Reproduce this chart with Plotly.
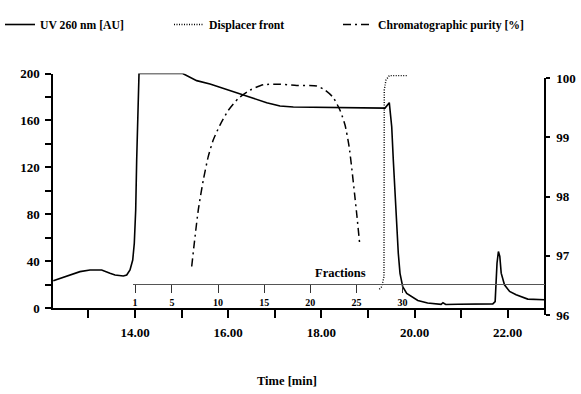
import plotly.graph_objects as go

# ---------------- data ----------------
uv_time = [12.246, 12.534, 12.819, 13.034, 13.285, 13.463, 13.571, 13.749, 13.822, 13.893,
           13.951, 13.985, 14.015, 14.036, 14.058, 14.086, 15.024, 15.144, 15.324, 15.61,
           15.968, 16.254, 16.539, 16.827, 17.112, 17.398, 17.9, 18.61, 19.366, 19.458,
           19.51, 19.544, 19.58, 19.617, 19.651, 19.688, 19.746, 19.832, 19.939, 20.07,
           20.28, 20.57, 20.61, 20.67, 20.93, 21.68, 21.73, 21.77, 21.8, 21.83,
           21.86, 21.93, 22.04, 22.18, 22.43, 22.65, 22.79]
uv_au = [23.3, 27.3, 31.0, 32.4, 32.4, 29.6, 28.1, 27.3, 28.1, 32.4,
         40.9, 55.2, 83.6, 126.2, 168.9, 200, 200, 197.3, 193.9, 191.0,
         186.5, 183.1, 178.9, 175.1, 172.3, 171.4, 171.2, 171.2, 170.5, 175.1,
         154.6, 126.2, 97.8, 69.3, 46.7, 29.6, 18.2, 12.5, 9.7, 6.4,
         4.2, 3.1, 4.5, 3.0, 3.2, 3.5, 5.5, 38.2, 48.2, 44.0,
         29.7, 19.8, 14.1, 11.3, 7.6, 7.1, 7.0]

disp_time = [19.244, 19.295, 19.344, 19.35, 19.387, 19.458, 19.832]
disp_au = [16.0, 18.2, 26.7, 186.0, 194.5, 198.2, 198.2]

pur_time = [15.217, 15.288, 15.359, 15.466, 15.573, 15.681, 15.824, 16.003, 16.217, 16.468,
            16.754, 17.112, 17.471, 17.9, 18.078, 18.25, 18.4, 18.508, 18.593, 18.657,
            18.711, 18.765, 18.819]
pur_pct = [96.82, 97.32, 97.78, 98.28, 98.68, 98.96, 99.21, 99.46, 99.66, 99.80,
           99.89, 99.90, 99.88, 99.87, 99.80, 99.68, 99.46, 99.21, 98.86, 98.45,
           98.06, 97.66, 97.23]

time_ticks = [13, 14, 15, 16, 17, 18, 19, 20, 21, 22]
time_labels = ["", "14.00", "", "16.00", "", "18.00", "", "20.00", "", "22.00"]
au_ticks = [0, 20, 40, 60, 80, 100, 120, 140, 160, 180, 200]
au_labels = ["0", "", "40", "", "80", "", "120", "", "160", "", "200"]
pur_ticks = [96, 97, 98, 99, 100]
fraction_ticks = [1, 5, 10, 15, 20, 25, 30]
fraction_start_time = 14.0
fraction_minutes = 0.198

# ---------------- geometry ----------------
W, H = 581, 394
X0, X1 = 53, 545
T_LEFT, T_RIGHT = 12.24, 22.80
Y_BOT, Y_TOP = 308, 73.5
Y2_BOT, Y2_TOP = 315, 78.3
FR_X0 = 133
FR_Y = 284


def px(x):
    return x / W


def py(y):
    return 1 - y / H


def t_at(x):
    return T_LEFT + (x - X0) / (X1 - X0) * (T_RIGHT - T_LEFT)


def frac_of(t):
    return 1 + (t - fraction_start_time) / fraction_minutes


FONT = "Liberation Serif"
dom_x = [px(X0), px(X1)]

fig = go.Figure()
fig.add_trace(go.Scatter(x=uv_time, y=uv_au, mode="lines", name="UV 260 nm [AU]",
                         line=dict(color="black", width=1.6), legend="legend"))
fig.add_trace(go.Scatter(x=disp_time, y=disp_au, mode="lines", name="Displacer front",
                         line=dict(color="black", width=1.4, dash="1px,1.5px"), legend="legend2"))
fig.add_trace(go.Scatter(x=pur_time, y=pur_pct, mode="lines", name="Chromatographic purity [%]",
                         line=dict(color="black", width=1.5, dash="8px,4px,2px,4px", shape="spline",
                                   smoothing=0.6),
                         xaxis="x2", yaxis="y2", legend="legend3"))
fig.add_trace(go.Scatter(x=fraction_ticks, y=[None] * len(fraction_ticks), mode="lines",
                         xaxis="x3", yaxis="y", showlegend=False, hoverinfo="skip"))

tickfont = dict(family=FONT, size=13, color="black", weight="bold")

fig.update_layout(
    width=W, height=H,
    margin=dict(l=0, r=0, t=0, b=0),
    paper_bgcolor="white", plot_bgcolor="rgba(0,0,0,0)",
    font=dict(family=FONT, size=13, color="black", weight="bold"),
    xaxis=dict(domain=dom_x, range=[T_LEFT, T_RIGHT], showgrid=False, zeroline=False,
               showline=True, linecolor="black", linewidth=1.5,
               ticks="outside", ticklen=8, tickwidth=1.5, tickcolor="black",
               tickmode="array", tickvals=time_ticks, ticktext=time_labels,
               tickfont=tickfont, ticklabelstandoff=4, anchor="y", automargin=False),
    yaxis=dict(domain=[py(Y_BOT), py(Y_TOP)], range=[0, 200], showgrid=False, zeroline=False,
               showline=True, linecolor="black", linewidth=1.5,
               ticks="outside", ticklen=6, tickwidth=1.5, tickcolor="black",
               tickmode="array", tickvals=au_ticks, ticktext=au_labels,
               tickfont=tickfont, ticklabelstandoff=3, anchor="x", automargin=False),
    xaxis2=dict(domain=dom_x, range=[T_LEFT, T_RIGHT], visible=False, anchor="y2"),
    yaxis2=dict(domain=[py(Y2_BOT), py(Y2_TOP)], range=[96, 100], showgrid=False, zeroline=False,
                showline=True, linecolor="black", linewidth=1.5, side="right",
                anchor="free", position=px(X1),
                ticks="outside", ticklen=4, tickwidth=1.5, tickcolor="black",
                tickmode="array", tickvals=pur_ticks, tickfont=tickfont,
                ticklabelstandoff=4, automargin=False),
    xaxis3=dict(domain=[px(FR_X0), px(X1)], range=[frac_of(t_at(FR_X0)), frac_of(t_at(X1))],
                anchor="free", position=py(FR_Y), side="bottom",
                showgrid=False, zeroline=False, showline=True, linecolor="#555555", linewidth=1,
                ticks="outside", ticklen=8, tickwidth=1, tickcolor="#333333",
                tickmode="array", tickvals=fraction_ticks,
                tickfont=dict(family=FONT, size=10, color="black", weight="bold"),
                ticklabelstandoff=1, automargin=False),
    legend=dict(x=px(0), y=py(10), xanchor="left", yanchor="top", orientation="h",
                font=dict(family=FONT, size=11.7, color="black", weight="bold"),
                bgcolor="rgba(0,0,0,0)"),
    legend2=dict(x=px(169), y=py(10), xanchor="left", yanchor="top", orientation="h",
                 font=dict(family=FONT, size=11.7, color="black", weight="bold"),
                 bgcolor="rgba(0,0,0,0)"),
    legend3=dict(x=px(338), y=py(10), xanchor="left", yanchor="top", orientation="h",
                 font=dict(family=FONT, size=11.7, color="black", weight="bold"),
                 bgcolor="rgba(0,0,0,0)"),
    annotations=[
        dict(text="Fractions", x=px(340), y=py(273), xref="paper", yref="paper",
             showarrow=False, xanchor="center", yanchor="middle",
             font=dict(family=FONT, size=12.5, color="black", weight="bold")),
        dict(text="Time [min]", x=px(287), y=py(381), xref="paper", yref="paper",
             showarrow=False, xanchor="center", yanchor="middle",
             font=dict(family=FONT, size=12.5, color="black", weight="bold")),
    ],
)

fig.write_html("out.html")
